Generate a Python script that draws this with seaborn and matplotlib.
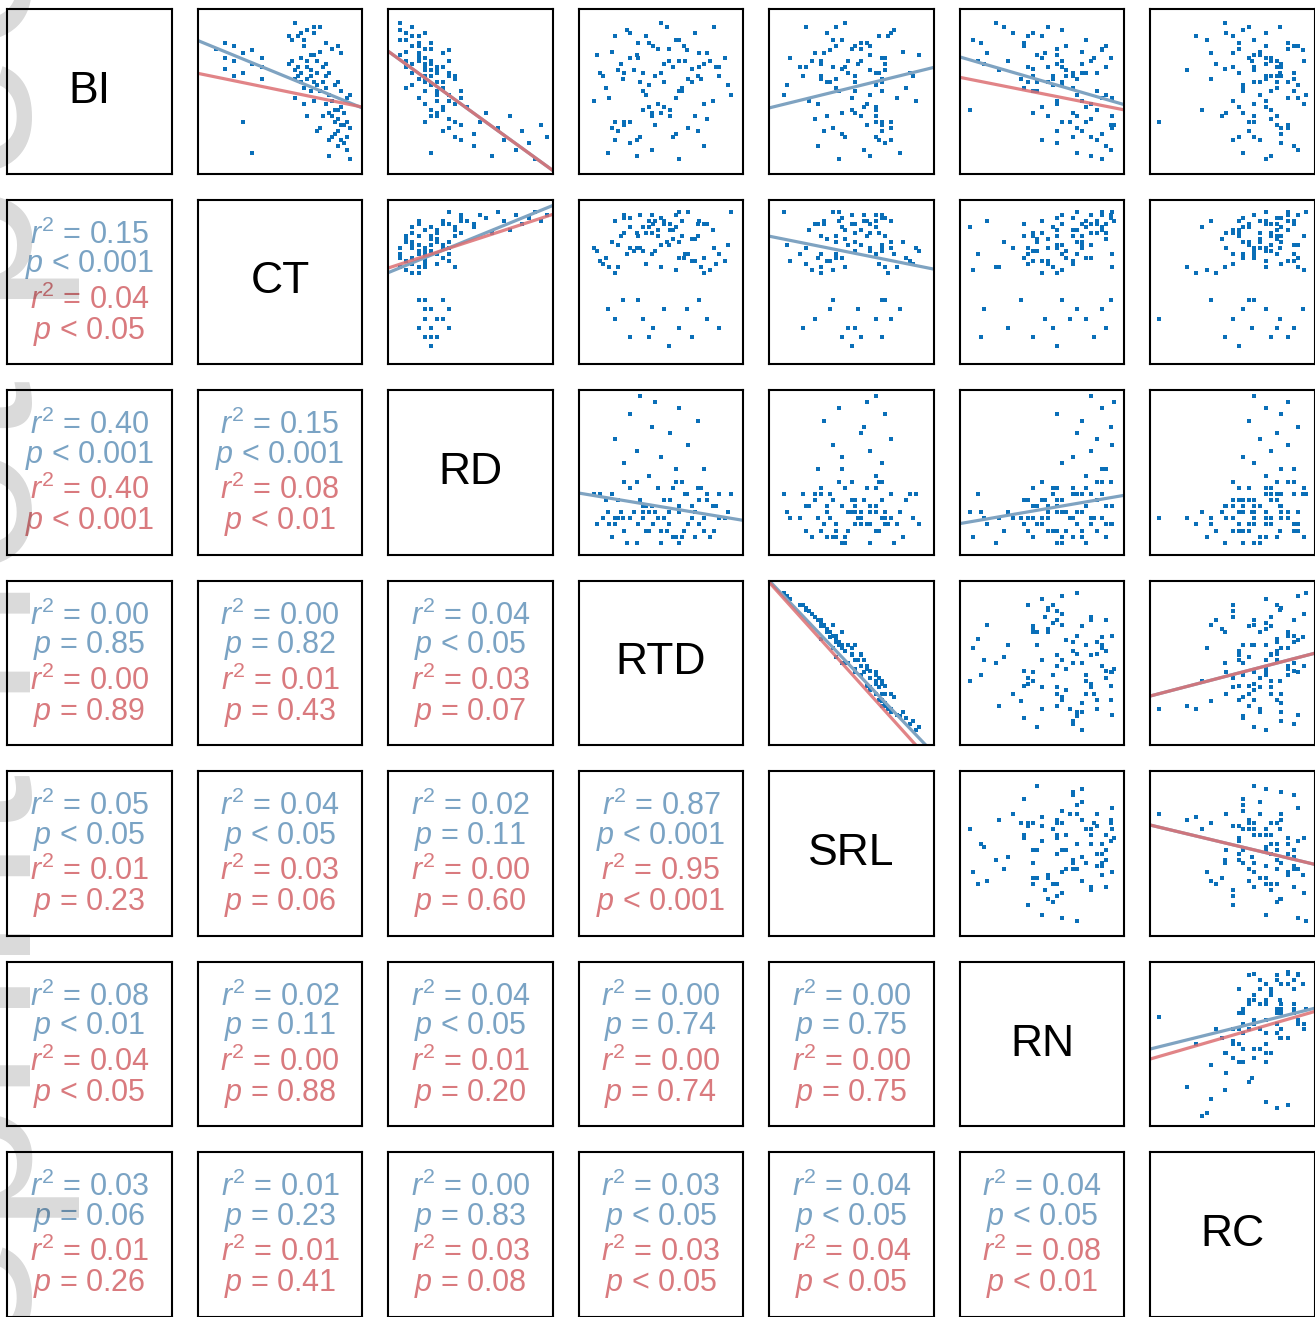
import numpy as np
import pandas as pd
import seaborn as sns
import matplotlib.pyplot as plt

traits = ["BI", "CT", "RD", "RTD", "SRL", "RN", "RC"]

# trait values (scaled 0-100), one entry per species
BI = [78, 72, 65, 80, 70, 30, 75, 62, 68, 10, 77, 58, 66, 82, 60, 72, 95, 88, 90, 84,
      92, 76, 86, 80, 74, 70, 82, 68, 78, 64, 72, 58, 88, 66, 54, 75, 60, 84, 50, 70,
      62, 80, 56, 92, 46, 66, 74, 52, 86, 62, 42, 60, 50, 68, 44, 56, 38, 62, 34, 48,
      70, 30, 54, 40, 26, 58, 36, 46, 64, 32, 52, 42, 28, 56, 20, 44, 66, 38, 50, 24,
      60, 34, 48, 18, 56, 40, 22, 30, 14, 36, 8, 26, 18, 34, 12, 24, 16, 6, 28, 20]
CT = [8, 14, 14, 20, 20, 26, 26, 26, 32, 32, 32, 38, 38, 14, 20, 38, 60, 64, 68, 58,
      72, 76, 62, 66, 70, 74, 80, 56, 84, 60, 64, 68, 72, 78, 86, 90, 62, 66, 70, 58,
      82, 88, 64, 76, 60, 68, 72, 80, 56, 74, 66, 70, 76, 80, 84, 72, 88, 64, 78, 82,
      68, 86, 74, 90, 76, 60, 82, 94, 70, 88, 66, 80, 92, 78, 84, 72, 62, 86, 90, 74,
      80, 68, 96, 82, 88, 90, 86, 94, 88, 92, 82, 96, 90, 84, 94, 88, 92, 96, 90, 94]
RD = [24, 20, 28, 16, 24, 20, 32, 28, 20, 24, 36, 20, 32, 24, 36, 16, 4, 8, 4, 8,
      12, 8, 12, 12, 16, 16, 16, 12, 20, 20, 20, 16, 20, 8, 12, 16, 20, 4, 20, 8,
      12, 16, 20, 12, 16, 20, 4, 8, 16, 12, 20, 24, 28, 24, 28, 32, 32, 36, 24, 28,
      36, 40, 24, 32, 36, 40, 28, 44, 24, 36, 32, 40, 44, 28, 40, 36, 28, 24, 44, 32,
      40, 28, 36, 44, 32, 48, 52, 56, 52, 60, 64, 68, 72, 76, 80, 84, 88, 92, 96, 100]
RTD = [55, 30, 70, 45, 62, 20, 80, 38, 52, 15, 67, 25, 75, 42, 88, 35, 50, 72, 28, 60,
       85, 18, 40, 65, 8, 55, 35, 78, 48, 22, 92, 68, 30, 58, 42, 75, 12, 62, 38, 82,
       26, 45, 70, 54, 16, 88, 34, 64, 20, 50, 78, 46, 62, 24, 84, 36, 56, 10, 72, 40,
       66, 30, 94, 52, 18, 76, 44, 60, 32, 80, 14, 48, 26, 70, 58, 6, 86, 38, 64, 22,
       74, 44, 96, 34, 52, 42, 60, 26, 78, 50, 34, 68, 20, 56, 44, 74, 30, 62, 46, 36]
SRL = [50, 70, 44, 52, 48, 76, 26, 66, 54, 82, 36, 70, 38, 56, 18, 72, 46, 34, 78, 38,
       20, 84, 68, 40, 94, 56, 60, 30, 56, 72, 10, 40, 76, 46, 66, 32, 90, 44, 70, 24,
       68, 62, 36, 40, 80, 16, 62, 40, 74, 48, 28, 52, 52, 72, 22, 70, 50, 88, 34, 62,
       30, 66, 8, 58, 76, 30, 52, 50, 62, 26, 86, 60, 70, 34, 46, 92, 20, 66, 42, 70,
       30, 66, 6, 68, 52, 66, 44, 70, 28, 44, 62, 38, 76, 56, 58, 32, 72, 42, 60, 66]
RN = [60, 84, 44, 92, 28, 68, 52, 79, 12, 73, 89, 36, 63, 10, 57, 95, 20, 44, 63, 5,
      54, 76, 41, 66, 47, 82, 38, 60, 89, 22, 50, 73, 31, 92, 57, 14, 70, 79, 44, 63,
      86, 38, 54, 25, 96, 41, 60, 70, 50, 76, 82, 66, 47, 76, 60, 41, 86, 70, 54, 92,
      8, 79, 63, 50, 73, 57, 44, 89, 66, 82, 38, 60, 95, 47, 70, 76, 54, 3, 86, 60,
      44, 96, 73, 50, 63, 79, 89, 63, 92, 70, 82, 96, 86, 73, 95, 76, 60, 89, 97, 82]
RC = [54, 75, 45, 90, 63, 2, 50, 81, 72, 57, 96, 36, 64, 86, 79, 61, 45, 72, 57, 33,
      81, 68, 50, 93, 64, 75, 54, 39, 86, 20, 72, 90, 46, 79, 57, 36, 82, 64, 75, 97,
      54, 72, 86, 61, 93, 50, 68, 79, 26, 90, 64, 72, 57, 82, 50, 64, 75, 90, 43, 68,
      79, 61, 93, 54, 82, 72, 46, 86, 64, 75, 57, 97, 79, 68, 54, 72, 82, 30, 90, 61,
      75, 64, 98, 50, 79, 72, 82, 64, 90, 57, 75, 86, 68, 79, 93, 61, 82, 72, 86, 64]

# statistics shown in lower triangle: (row trait, column trait)
stat_pairs = [("CT", "BI"),
              ("RD", "BI"), ("RD", "CT"),
              ("RTD", "BI"), ("RTD", "CT"), ("RTD", "RD"),
              ("SRL", "BI"), ("SRL", "CT"), ("SRL", "RD"), ("SRL", "RTD"),
              ("RN", "BI"), ("RN", "CT"), ("RN", "RD"), ("RN", "RTD"), ("RN", "SRL"),
              ("RC", "BI"), ("RC", "CT"), ("RC", "RD"), ("RC", "RTD"), ("RC", "SRL"), ("RC", "RN")]
ols_r2 = ["0.15", "0.40", "0.15", "0.00", "0.00", "0.04", "0.05", "0.04", "0.02", "0.87",
          "0.08", "0.02", "0.04", "0.00", "0.00", "0.03", "0.01", "0.00", "0.03", "0.04", "0.04"]
ols_p = ["< 0.001", "< 0.001", "< 0.001", "= 0.85", "= 0.82", "< 0.05", "< 0.05", "< 0.05", "= 0.11", "< 0.001",
         "< 0.01", "= 0.11", "< 0.05", "= 0.74", "= 0.75", "= 0.06", "= 0.23", "= 0.83", "< 0.05", "< 0.05", "< 0.05"]
pgls_r2 = ["0.04", "0.40", "0.08", "0.00", "0.01", "0.03", "0.01", "0.03", "0.00", "0.95",
           "0.04", "0.00", "0.01", "0.00", "0.00", "0.01", "0.01", "0.03", "0.03", "0.04", "0.08"]
pgls_p = ["< 0.05", "< 0.001", "< 0.01", "= 0.89", "= 0.43", "= 0.07", "= 0.23", "= 0.06", "= 0.60", "< 0.001",
          "< 0.05", "= 0.88", "= 0.20", "= 0.74", "= 0.75", "= 0.26", "= 0.41", "= 0.08", "< 0.05", "< 0.05", "< 0.01"]

# fitted lines y = a + b*x for the upper triangle: (y trait, x trait)
line_pairs = [("BI", "CT"), ("BI", "RD"), ("BI", "SRL"), ("BI", "RN"), ("CT", "RD"), ("CT", "SRL"),
              ("RD", "RTD"), ("RD", "RN"), ("RTD", "SRL"), ("RTD", "RC"), ("SRL", "RC"), ("RN", "RC")]
ols_a = [81.8, 73.5, 40.2, 71.5, 57.7, 79.2, 35.9, 17.2, 99.8, 29.4, 67.7, 47.7]
ols_b = [-0.41, -0.724, 0.246, -0.29, 0.408, -0.2, -0.166, 0.172, -1.05, 0.26, -0.239, 0.248]
pgls_a = [61.1, 73.5, np.nan, 58.5, 60.4, np.nan, np.nan, np.nan, 98.5, 29.4, 67.7, 41.3]
pgls_b = [-0.205, -0.724, np.nan, -0.198, 0.326, np.nan, np.nan, np.nan, -1.11, 0.26, -0.239, 0.289]

df = pd.DataFrame({"BI": BI, "CT": CT, "RD": RD, "RTD": RTD, "SRL": SRL, "RN": RN, "RC": RC})

sns.set_style("white")
plt.rcParams["font.family"] = ["Liberation Sans", "DejaVu Sans"]
plt.rcParams["mathtext.fontset"] = "custom"
plt.rcParams["mathtext.rm"] = "Liberation Sans"
plt.rcParams["mathtext.it"] = "Liberation Sans:italic"

blue_pt = "#0a6fb8"
blue_ln = "#7fa3c1"
red_ln = "#dc6f72"
blue_txt = "#7aa3c4"
red_txt = "#d97a7e"
lims = (-4, 104)
text_y = [0.733, 0.559, 0.338, 0.156]

fig, axes = plt.subplots(7, 7, figsize=(13.15, 13.17), dpi=100)
plt.subplots_adjust(left=7/1315, right=1.0, bottom=0.0, top=1-9/1317, wspace=0.155, hspace=0.155)

for i, rt in enumerate(traits):
    for j, ct in enumerate(traits):
        ax = axes[i, j]
        ax.set_xlim(lims)
        ax.set_ylim(lims)
        if i == j:
            ax.text(0.5, 0.5, rt, ha="center", va="center", fontsize=32, color="black",
                    transform=ax.transAxes)
        elif i < j:
            sns.scatterplot(data=df, x=ct, y=rt, ax=ax, marker="s", s=12, color=blue_pt,
                            linewidth=0, legend=False)
            if (rt, ct) in line_pairs:
                k = line_pairs.index((rt, ct))
                xs = np.array(lims)
                ax.plot(xs, ols_a[k] + ols_b[k] * xs, color=blue_ln, lw=2.3, solid_capstyle="butt")
                if not np.isnan(pgls_a[k]):
                    ax.plot(xs, pgls_a[k] + pgls_b[k] * xs, color=red_ln, lw=2.3, alpha=0.85,
                            solid_capstyle="butt")
            ax.set_xlim(lims)
            ax.set_ylim(lims)
        else:
            k = stat_pairs.index((rt, ct))
            lines = [(rf"$r^2$ = {ols_r2[k]}", blue_txt), (rf"$p$ {ols_p[k]}", blue_txt),
                     (rf"$r^2$ = {pgls_r2[k]}", red_txt), (rf"$p$ {pgls_p[k]}", red_txt)]
            for n, (s, c) in enumerate(lines):
                ax.text(0.5, text_y[n], s, color=c, fontsize=22, ha="center",
                        va="baseline", transform=ax.transAxes)
        ax.set(xlabel="", ylabel="", xticks=[], yticks=[])
        for sp in ax.spines.values():
            sp.set_visible(True)
            sp.set_color("black")
            sp.set_linewidth(1.5)

# faint watermark along the left edge (mostly outside the crop)
fig.text(31/1315, -0.215, "Preprint not peer reviewed", rotation=90, rotation_mode="anchor",
         fontsize=170, color="black", alpha=0.15, ha="left", va="baseline", zorder=20)

plt.savefig("out.png", dpi=100)
